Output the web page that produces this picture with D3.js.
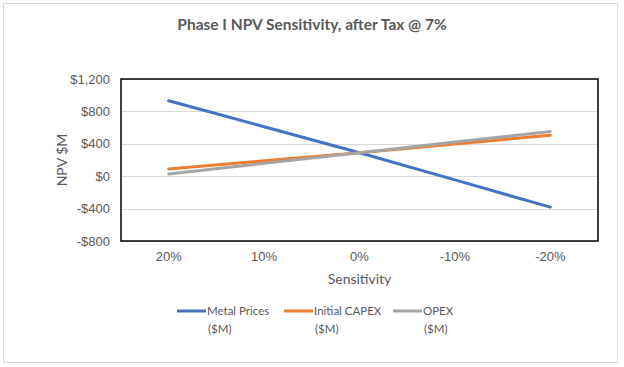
<!DOCTYPE html>
<html>
<head>
<meta charset="utf-8">
<script src="https://cdn.jsdelivr.net/npm/d3@7"></script>
<style>
  html, body { margin: 0; padding: 0; background: #fff; }
  svg { display: block; font-family: Lato, "Open Sans", sans-serif; }
</style>
</head>
<body>
<div id="chart"></div>
<script>
// Data
var categories = ["20%", "10%", "0%", "-10%", "-20%"];
var metalPrices = [932, 611, 290, -46, -382];
var initialCapex = [90, 190, 290, 398, 506];
var opex = [28, 159, 290, 421, 552];
var yTicks = [-800, -400, 0, 400, 800, 1200];

var seriesNames = ["Metal Prices", "Initial CAPEX", "OPEX"];
var seriesColors = ["#4472C4", "#ED7D31", "#A5A5A5"];
var series = [metalPrices, initialCapex, opex];

var width = 624, height = 367;
var plot = {left: 121, right: 598, top: 79, bottom: 241};

var svg = d3.select("#chart").append("svg")
    .attr("width", width)
    .attr("height", height);

// outer chart frame
svg.append("rect")
    .attr("x", 3.5).attr("y", 3.5)
    .attr("width", 614).attr("height", 359)
    .attr("fill", "#fff")
    .attr("stroke", "#d9d9d9");

var x = d3.scaleBand()
    .domain(categories)
    .range([plot.left, plot.right]);

var y = d3.scaleLinear()
    .domain([-800, 1200])
    .range([plot.bottom, plot.top]);

// Gridlines
svg.append("g")
    .selectAll("line")
    .data(yTicks)
    .join("line")
    .attr("x1", plot.left).attr("x2", plot.right)
    .attr("y1", function (d) { return Math.round(y(d)) + 0.5; })
    .attr("y2", function (d) { return Math.round(y(d)) + 0.5; })
    .attr("stroke", "#d9d9d9")
    .attr("stroke-width", 1);

// Y axis labels
var yAxis = svg.append("g")
    .attr("transform", "translate(" + plot.left + ",0)")
    .call(d3.axisLeft(y).tickValues(yTicks).tickSize(0).tickPadding(11)
        .tickFormat(function (d) { return (d < 0 ? "-$" : "$") + d3.format(",")(Math.abs(d)); }));
yAxis.select(".domain").remove();
yAxis.selectAll("text")
    .attr("fill", "#595959")
    .style("font-size", "13px");

// X axis labels
var xAxis = svg.append("g")
    .attr("transform", "translate(0," + plot.bottom + ")")
    .call(d3.axisBottom(x).tickSize(0).tickPadding(11));
xAxis.select(".domain").remove();
xAxis.selectAll("text")
    .attr("fill", "#595959")
    .style("font-size", "13px");

// plot area border
svg.append("rect")
    .attr("x", plot.left).attr("y", plot.top)
    .attr("width", plot.right - plot.left)
    .attr("height", plot.bottom - plot.top)
    .attr("fill", "none")
    .attr("stroke", "#000")
    .attr("stroke-width", 1.5);

// Lines
var line = d3.line()
    .x(function (d, i) { return x(categories[i]) + x.bandwidth() / 2; })
    .y(function (d) { return y(d); });

svg.append("g")
    .selectAll("path")
    .data(series)
    .join("path")
    .attr("d", line)
    .attr("fill", "none")
    .attr("stroke", function (d, i) { return seriesColors[i]; })
    .attr("stroke-width", 3)
    .attr("stroke-linecap", "round");

// Title
svg.append("text")
    .attr("x", 312).attr("y", 30)
    .attr("text-anchor", "middle")
    .attr("fill", "#595959")
    .style("font-size", "15.5px")
    .style("font-weight", "bold")
    .text("Phase I NPV Sensitivity, after Tax @ 7%");

// Axis titles
svg.append("text")
    .attr("transform", "translate(67," + ((plot.top + plot.bottom) / 2) + ") rotate(-90)")
    .attr("text-anchor", "middle")
    .attr("fill", "#595959")
    .style("font-size", "14px")
    .text("NPV $M");

svg.append("text")
    .attr("x", (plot.left + plot.right) / 2).attr("y", 284)
    .attr("text-anchor", "middle")
    .attr("fill", "#595959")
    .style("font-size", "14px")
    .text("Sensitivity");

// Legend
var legendX = [177, 284, 393];
var legend = svg.append("g")
    .selectAll("g")
    .data(seriesNames)
    .join("g")
    .attr("transform", function (d, i) { return "translate(" + legendX[i] + ",311)"; });

legend.append("line")
    .attr("x1", 0).attr("x2", 29)
    .attr("y1", 0).attr("y2", 0)
    .attr("stroke", function (d, i) { return seriesColors[i]; })
    .attr("stroke-width", 3);

legend.append("text")
    .attr("x", 30).attr("y", 4)
    .attr("fill", "#595959")
    .style("font-size", "11.5px")
    .text(function (d) { return d; });

legend.append("text")
    .attr("x", 31).attr("y", 22)
    .attr("fill", "#595959")
    .style("font-size", "11.5px")
    .text("($M)");
</script>
</body>
</html>
